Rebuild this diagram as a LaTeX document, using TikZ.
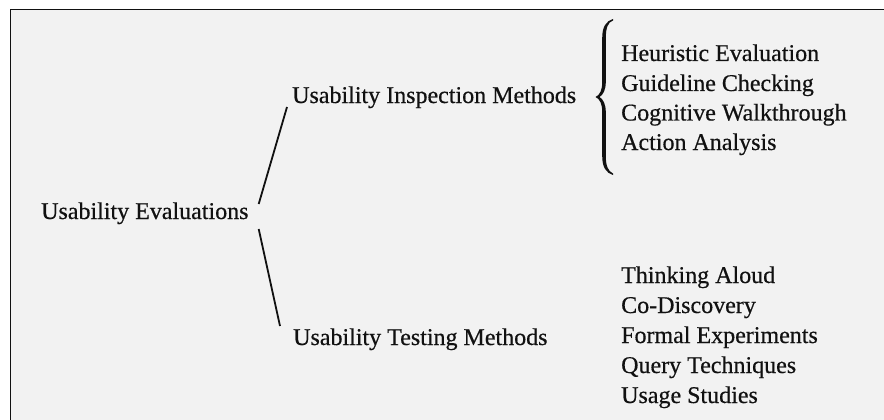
\documentclass[tikz,border=0pt]{standalone}
\usepackage{fontspec}
\setmainfont{Liberation Serif}[FakeBold=0.5]
\usetikzlibrary{calc}
\definecolor{bg}{HTML}{F2F2F2}
\definecolor{ink}{HTML}{111111}
\tikzset{
  lbl/.style={anchor=base west, inner sep=0pt, text=ink, font=\fontsize{24}{29}\selectfont},
  conn/.style={draw=ink, line width=1.8pt},
}
\begin{document}
\begin{tikzpicture}[x=1pt, y=-1pt]
\useasboundingbox (0,0) rectangle (884,420);
\fill[white] (0,0) rectangle (884,420);
\fill[bg] (10.5,9.5) rectangle (884,420);
\draw[line width=1.3pt, ink] (884,9.5) -- (10.5,9.5) -- (10.5,420);

\node[lbl] (root) at (41,219) {Usability Evaluations};
\node[lbl] (ins) at (292,103) {Usability Inspection Methods};
\node[lbl] (test) at (293,345) {Usability Testing Methods};

\draw[conn] ($(root.base east)+(10,-15)$) -- ($(ins.base west)+(-5,4)$);
\draw[conn] ($(root.base east)+(10,10)$) -- ($(test.base west)+(-13,-19)$);

% brace
\fill[ink] (613,19) .. controls (606,21) and (602.2,27) .. (602.2,38) -- (602.2,82)
  .. controls (602.2,90) and (600,95) .. (595.5,97)
  .. controls (600,99) and (602.2,104) .. (602.2,112) -- (602.2,156)
  .. controls (602.2,167) and (606,173) .. (613,175) -- (613,173.5)
  .. controls (608,171) and (605.8,166) .. (605.8,156) -- (605.8,112)
  .. controls (605.8,104) and (603,99) .. (599.5,97)
  .. controls (603,95) and (605.8,90) .. (605.8,82) -- (605.8,38)
  .. controls (605.8,28) and (608,22) .. (613,20.5) -- cycle;

\node[lbl] (i1) at (621,61) {Heuristic Evaluation};
\node[lbl] (i2) at (621,91) {Guideline Checking};
\node[lbl] (i3) at (621,120.5) {Cognitive Walkthrough};
\node[lbl] (i4) at (621,150) {Action Analysis};

\node[lbl] (t1) at (621,283) {Thinking Aloud};
\node[lbl] (t2) at (621,313) {Co-Discovery};
\node[lbl] (t3) at (621,343) {Formal Experiments};
\node[lbl] (t4) at (621,373) {Query Techniques};
\node[lbl] (t5) at (621,403) {Usage Studies};
\end{tikzpicture}
\end{document}
